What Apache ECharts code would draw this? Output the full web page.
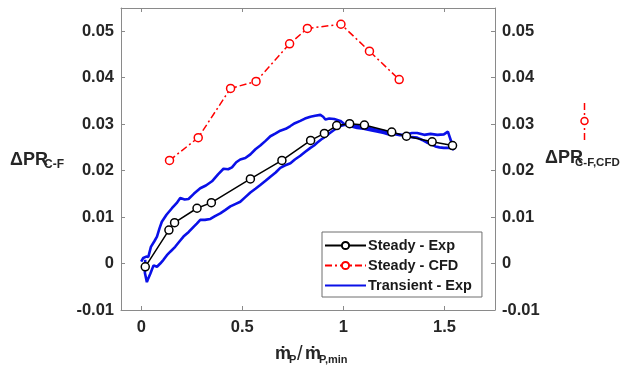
<!DOCTYPE html>
<html>
<head>
<meta charset="utf-8">
<script src="https://cdn.jsdelivr.net/npm/echarts@6/dist/echarts.min.js"></script>
<style>
  html, body { margin: 0; padding: 0; background: #fff; }
  #chart { width: 621px; height: 370px; }
</style>
</head>
<body>
<div id="chart"></div>
<script>
// Mass-flow ratio ticks and pressure-ratio ticks
const xTicks = [0, 0.5, 1, 1.5];
const yTicks = [-0.01, 0, 0.01, 0.02, 0.03, 0.04, 0.05];

// Steady experimental points
const steadyExpX = [0.02, 0.137, 0.165, 0.276, 0.347, 0.54, 0.696, 0.838, 0.906, 0.967, 1.031, 1.104, 1.239, 1.312, 1.439, 1.54];
const steadyExpY = [-0.0007, 0.0072, 0.0088, 0.0119, 0.0131, 0.0182, 0.0222, 0.0265, 0.0280, 0.0297, 0.0301, 0.0298, 0.0283, 0.0274, 0.0262, 0.0254];

// Steady CFD points
const steadyCfdX = [0.14, 0.282, 0.442, 0.568, 0.734, 0.822, 0.988, 1.129, 1.276];
const steadyCfdY = [0.0222, 0.0271, 0.0377, 0.0392, 0.0473, 0.0506, 0.0515, 0.0457, 0.0396];

// Transient experimental loop: rising branch, then the return branch
const transientX = [
  0.0, 0.01, 0.025, 0.035, 0.048, 0.065, 0.078, 0.09, 0.102, 0.125, 0.152, 0.175, 0.193, 0.215, 0.234, 0.26,
  0.292, 0.32, 0.35, 0.38, 0.407, 0.43, 0.449, 0.47, 0.49, 0.515, 0.54, 0.565, 0.589, 0.615, 0.639, 0.665,
  0.688, 0.715, 0.738, 0.76, 0.787, 0.81, 0.837, 0.86, 0.886, 0.9, 0.911, 0.93, 0.955, 0.985, 1.0, 1.018,
  1.04, 1.068, 1.1, 1.134, 1.165, 1.2, 1.225, 1.249, 1.28, 1.315, 1.34, 1.365, 1.4, 1.431, 1.465, 1.497,
  1.517, 1.53, 1.546,
  1.53, 1.497, 1.475, 1.455, 1.435, 1.414, 1.39, 1.365, 1.34, 1.315, 1.29, 1.266, 1.235, 1.2, 1.165, 1.134,
  1.1, 1.068, 1.04, 1.018, 0.985, 0.968, 0.952, 0.93, 0.911, 0.89, 0.87, 0.855, 0.837, 0.81, 0.787, 0.76,
  0.738, 0.71, 0.688, 0.665, 0.639, 0.615, 0.589, 0.565, 0.54, 0.515, 0.49, 0.465, 0.441, 0.415, 0.391, 0.365,
  0.342, 0.315, 0.292, 0.275, 0.259, 0.235, 0.209, 0.19, 0.168, 0.145, 0.127, 0.11, 0.094, 0.078, 0.061, 0.045,
  0.035, 0.028, 0.02, 0.018, 0.02
];
const transientY = [
  0.0004, 0.0012, 0.0015, 0.0014, 0.0036, 0.0048, 0.0058, 0.0075, 0.0090, 0.0105, 0.0119, 0.0130, 0.0141, 0.0138, 0.0139, 0.0150,
  0.0162, 0.0168, 0.0177, 0.0192, 0.0204, 0.0203, 0.0207, 0.0218, 0.0224, 0.0227, 0.0235, 0.0246, 0.0254, 0.0264, 0.0274, 0.0280,
  0.0286, 0.0290, 0.0296, 0.0302, 0.0307, 0.0312, 0.0316, 0.0318, 0.0320, 0.0316, 0.0310, 0.0312, 0.0311, 0.0307, 0.0302, 0.0297,
  0.0295, 0.0292, 0.0290, 0.0287, 0.0284, 0.0281, 0.0278, 0.0279, 0.0276, 0.0278, 0.0281, 0.0281, 0.0277, 0.0279, 0.0277, 0.0278,
  0.0284, 0.0267, 0.0245,
  0.0249, 0.0249, 0.0250, 0.0252, 0.0257, 0.0260, 0.0266, 0.0271, 0.0272, 0.0274, 0.0277, 0.0278, 0.0282, 0.0285, 0.0288, 0.0291,
  0.0293, 0.0296, 0.0298, 0.0300, 0.0296, 0.0292, 0.0287, 0.0280, 0.0273, 0.0267, 0.0260, 0.0254, 0.0249, 0.0240, 0.0232, 0.0224,
  0.0216, 0.0211, 0.0206, 0.0196, 0.0187, 0.0178, 0.0169, 0.0161, 0.0153, 0.0143, 0.0133, 0.0128, 0.0123, 0.0115, 0.0108, 0.0102,
  0.0096, 0.0094, 0.0094, 0.0086, 0.0079, 0.0068, 0.0058, 0.0048, 0.0036, 0.0026, 0.0018, 0.0008, 0.0000, -0.0007, -0.0004, -0.0022,
  -0.0032, -0.0040, -0.0044, -0.0020, 0.0008
];

const zip = (xs, ys) => xs.map((x, i) => [x, ys[i]]);

const FONT = '"Liberation Sans", Arial, sans-serif';
const axisGrey = '#8a8a8a';
const labelColor = '#262626';

const xAxisBase = {
  type: 'value', min: -0.1, max: 1.75,
  axisLine: { show: true, onZero: false, lineStyle: { color: axisGrey, width: 1 } },
  axisTick: { show: true, inside: true, length: 4, customValues: xTicks, lineStyle: { color: axisGrey } },
  splitLine: { show: false },
  axisLabel: { show: false }
};
const yAxisBase = {
  type: 'value', min: -0.01, max: 0.055,
  axisLine: { show: true, onZero: false, lineStyle: { color: axisGrey, width: 1 } },
  axisTick: { show: true, inside: true, length: 4, customValues: yTicks, lineStyle: { color: axisGrey } },
  splitLine: { show: false },
  axisLabel: {
    show: true, customValues: yTicks, color: labelColor, fontFamily: FONT,
    fontWeight: 'bold', fontSize: 16.5, margin: 7,
    formatter: v => String(Math.round(v * 1000) / 1000)
  }
};

function txt(text, x, y, size, weight, color) {
  return {
    type: 'text', x: x, y: y, silent: true,
    style: {
      text: text, fill: color || labelColor, font: (weight || 'bold') + ' ' + size + 'px ' + FONT,
      verticalAlign: 'middle', align: 'left'
    }
  };
}

const chart = echarts.init(document.getElementById('chart'), null, { renderer: 'canvas' });
chart.setOption({
  animation: false,
  backgroundColor: '#ffffff',
  grid: { left: 121, right: 126, top: 8, bottom: 60, containLabel: false },
  xAxis: [
    Object.assign({}, xAxisBase, {
      position: 'bottom',
      axisLabel: {
        show: true, customValues: xTicks, color: labelColor, fontFamily: FONT,
        fontWeight: 'bold', fontSize: 16.5, margin: 9,
        formatter: v => String(v)
      }
    }),
    Object.assign({}, xAxisBase, { position: 'top' })
  ],
  yAxis: [
    Object.assign({}, yAxisBase, { position: 'left' }),
    Object.assign({}, yAxisBase, { position: 'right' })
  ],
  legend: {
    orient: 'vertical', left: 322, top: 232,
    data: [
      'Steady - Exp',
      'Steady - CFD',
      { name: 'Transient - Exp', itemStyle: { opacity: 0 } }
    ],
    backgroundColor: '#ffffff', borderColor: '#6f6f6f', borderWidth: 1,
    padding: [6, 10, 4, 2], itemGap: 5, itemWidth: 41, itemHeight: 9,
    textStyle: { fontFamily: FONT, fontWeight: 'bold', fontSize: 14.5, color: '#1a1a1a', padding: [0, 0, 0, -3] }
  },
  series: [
    {
      name: 'Transient - Exp', type: 'line', xAxisIndex: 0, yAxisIndex: 0,
      data: zip(transientX, transientY), showSymbol: false, symbol: 'none',
      lineStyle: { color: '#0a10e8', width: 2.6 }, itemStyle: { color: '#0a10e8' }, z: 2
    },
    {
      name: 'Steady - Exp', type: 'line', xAxisIndex: 0, yAxisIndex: 0,
      data: zip(steadyExpX, steadyExpY), symbol: 'circle', symbolSize: 8,
      lineStyle: { color: '#000000', width: 1.5 },
      itemStyle: { color: '#ffffff', borderColor: '#000000', borderWidth: 1.5 }, z: 3
    },
    {
      name: 'Steady - CFD', type: 'line', xAxisIndex: 0, yAxisIndex: 0,
      data: zip(steadyCfdX, steadyCfdY), symbol: 'circle', symbolSize: 8,
      lineStyle: { color: '#ff0000', width: 1.5, type: [7, 3, 2, 3] },
      itemStyle: { color: '#ffffff', borderColor: '#ff0000', borderWidth: 1.5 }, z: 3
    }
  ],
  graphic: [
    // left axis title
    txt('ΔPR', 10, 160, 18),
    txt('C-F', 44, 165, 12),
    // right axis title with its CFD marker
    txt('ΔPR', 545, 158.5, 18),
    txt('C-F,CFD', 575, 163, 11.5),
    {
      type: 'line', silent: true,
      shape: { x1: 584.5, y1: 103, x2: 584.5, y2: 140 },
      style: { stroke: '#ff0000', lineWidth: 1.5, lineDash: [7, 3, 2, 3] }
    },
    {
      type: 'circle', silent: true,
      shape: { cx: 584.5, cy: 121, r: 3.5 },
      style: { fill: '#ffffff', stroke: '#ff0000', lineWidth: 1.5 }
    },
    // x axis title
    txt('ṁ', 275, 354, 18),
    txt('P', 289, 360, 11),
    txt('/', 297, 354, 20, 'normal'),
    txt('ṁ', 305, 354, 18),
    txt('P,min', 319, 360, 11)
  ]
});
</script>
</body>
</html>
